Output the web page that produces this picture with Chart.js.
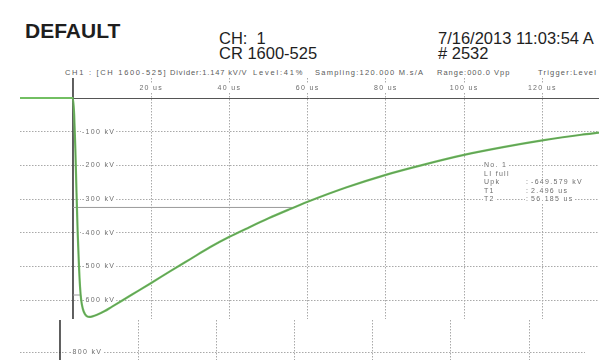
<!DOCTYPE html>
<html>
<head>
<meta charset="utf-8">
<script src="https://cdn.jsdelivr.net/npm/chart.js@4.4.0/dist/chart.umd.min.js"></script>
<style>
  body { margin: 0; width: 599px; height: 360px; overflow: hidden; position: relative; background: #fff;
         font-family: "Liberation Sans", Arial, sans-serif; }
  .t { position: absolute; white-space: nowrap; line-height: 1; color: #1e1e1e; }
  .hdr { font-size: 7.5px; color: #5a5a5a; top: 69px; }
  #main { position: absolute; left: 0; top: 0; }
  #frag { position: absolute; left: 0; top: 320px; }
</style>
</head>
<body>
<div class="t" style="left:25px;top:20px;font-size:21px;font-weight:bold;">DEFAULT</div>
<div class="t" style="left:219px;top:30px;font-size:16.5px;">CH:&nbsp; 1</div>
<div class="t" style="left:219px;top:45px;font-size:16.5px;">CR 1600-525</div>
<div class="t" style="left:438px;top:30px;font-size:16.5px;">7/16/2013 11:03:54 A</div>
<div class="t" style="left:438px;top:45px;font-size:16.5px;"># 2532</div>

<div class="t hdr" style="left:65px;letter-spacing:1.7px;">CH1 : [CH 1600-525]</div>
<div class="t hdr" style="left:170px;letter-spacing:0.85px;">Divider:1.147 kV/V</div>
<div class="t hdr" style="left:253px;letter-spacing:1.8px;">Level:41%</div>
<div class="t hdr" style="left:315px;letter-spacing:1.25px;">Sampling:120.000 M.s/A</div>
<div class="t hdr" style="left:437px;letter-spacing:1px;">Range:000.0 Vpp</div>
<div class="t hdr" style="left:538px;letter-spacing:1.2px;">Trigger:Level 10</div>

<canvas id="main" width="599" height="320"></canvas>
<canvas id="frag" width="599" height="40"></canvas>

<script>
// impulse record, time in us, voltage in kV
const timeUs = [-13.6, 0, 0.3, 0.6, 0.9, 1.2, 1.5, 1.8, 2.1, 2.5, 3, 3.5, 4.2, 5, 6, 8, 10, 15,
                20, 25, 30, 35, 40, 45, 50, 55, 60, 70, 80, 90, 100, 110, 120, 130, 134.5];
const voltageKv = [0, 0, -50, -150, -280, -400, -490, -560, -600, -625, -640, -647, -649.6, -648, -644, -633, -619, -584,
                   -549, -513, -478, -443, -412, -384, -357, -332, -308, -265, -228, -197, -169, -146, -126, -109, -103];

const xTickVals = [20, 40, 60, 80, 100, 120];
const yTickVals = [-100, -200, -300, -400, -500, -600];
const fragYTickVals = [-800];

const upkKv = -649.579;
const t1Us = 2.496;
const t2Us = 56.185;
const infoLabels = ['No. 1', 'LI full', 'Upk', 'T1', 'T2'];
const infoValues = ['', '', '-649.579 kV', '2.496 us', '56.185 us'];

const GREEN = '#72bf62';
const GRID = '#a9a9a9';
const FONT = '7px "Liberation Sans", Arial, sans-serif';

const points = timeUs.map((t, i) => ({ x: t, y: voltageKv[i] }));

// time where the front first reaches a given level
function crossing(level) {
  for (let i = 1; i < points.length; i++) {
    const a = points[i - 1], b = points[i];
    if ((a.y - level) * (b.y - level) <= 0 && a.y !== b.y) {
      return a.x + (level - a.y) / (b.y - a.y) * (b.x - a.x);
    }
  }
  return 0;
}

function textBox(ctx, txt, px, py, align) {
  const w = ctx.measureText(txt).width;
  const left = align === 'center' ? px - w / 2 : px;
  ctx.fillStyle = '#fff';
  ctx.fillRect(left - 1, py - 4, w + 2, 8);
  ctx.fillStyle = '#6e6e6e';
  ctx.textAlign = 'left';
  ctx.fillText(txt, left, py);
}

const scopeDecor = {
  id: 'scopeDecor',
  beforeDatasetsDraw(chart, args, opts) {
    const { ctx, chartArea: a, scales: { x, y } } = chart;
    const x0 = x.getPixelForValue(0);
    ctx.save();

    if (opts.zeroLine) {
      const y0 = Math.round(y.getPixelForValue(0)) + 0.5;
      ctx.strokeStyle = '#555';
      ctx.lineWidth = 1;
      ctx.beginPath(); ctx.moveTo(a.left, y0); ctx.lineTo(a.right, y0); ctx.stroke();
    }

    ctx.strokeStyle = '#2b2b2b';
    ctx.lineWidth = 1.5;
    ctx.beginPath(); ctx.moveTo(x0, a.top); ctx.lineTo(x0, a.bottom); ctx.stroke();

    ctx.font = FONT;
    ctx.letterSpacing = '1.3px';
    ctx.textBaseline = 'middle';

    y.ticks.forEach(t => textBox(ctx, t.value + ' kV', x0 + 9, y.getPixelForValue(t.value), 'left'));

    if (opts.xLabels) {
      const ly = y.getPixelForValue(0) - 10;
      x.ticks.forEach(t => textBox(ctx, t.value + ' us', x.getPixelForValue(t.value), ly, 'center'));
    }

    if (opts.info) {
      const top = y.getPixelForValue(-200);
      const step = (y.getPixelForValue(-300) - top) / 4;
      infoLabels.forEach((lab, i) => {
        const py = top + i * step;
        textBox(ctx, lab, 484, py, 'left');
        if (infoValues[i]) {
          textBox(ctx, ':', 526, py, 'left');
          textBox(ctx, infoValues[i], 531, py, 'left');
        }
      });
    }
    ctx.restore();
  }
};

function gridAxis(min, max, ticks) {
  return {
    type: 'linear', min: min, max: max,
    afterBuildTicks: s => { s.ticks = ticks.map(v => ({ value: v })); },
    ticks: { display: false },
    grid: { color: GRID, lineWidth: 1, drawTicks: false },
    border: { display: false, dash: [1.5, 1.5] }
  };
}

// scale ranges from the reference: 78.2 px per 20 us, 33.7 px per 100 kV
const t90 = crossing(0.9 * upkKv);

new Chart(document.getElementById('main'), {
  type: 'line',
  data: {
    datasets: [
      { data: points.filter(p => p.x >= 0), borderColor: 'rgba(55,75,55,0.5)', borderWidth: 0.6,
        pointRadius: 0, cubicInterpolationMode: 'monotone', order: 0 },
      { data: points, borderColor: GREEN, borderWidth: 2.2,
        pointRadius: 0, cubicInterpolationMode: 'monotone', order: 1 },
      { data: [{ x: 0, y: upkKv / 2 }, { x: t2Us, y: upkKv / 2 }], borderColor: '#9a9a9a', borderWidth: 1,
        pointRadius: 0, order: 2 },
      { data: [{ x: 0, y: 0.9 * upkKv }, { x: t90, y: 0.9 * upkKv }], borderColor: '#9a9a9a', borderWidth: 1,
        pointRadius: 0, order: 2 }
    ]
  },
  options: {
    responsive: false,
    animation: false,
    layout: { padding: { left: 20, right: 0, top: 78, bottom: 1 } },
    scales: {
      x: gridAxis(-13.55, 134.5, xTickVals),
      y: gridAxis(-655.8, 59.3, yTickVals)
    },
    plugins: {
      legend: { display: false },
      tooltip: { enabled: false },
      scopeDecor: { zeroLine: true, xLabels: true, info: true }
    }
  },
  plugins: [scopeDecor]
});

// shifted strip at the bottom of the scan
new Chart(document.getElementById('frag'), {
  type: 'line',
  data: { datasets: [{ data: [], pointRadius: 0 }] },
  options: {
    responsive: false,
    animation: false,
    layout: { padding: { left: 20, right: 14, top: 0, bottom: 0 } },
    scales: {
      x: gridAxis(-10.23, 134.3, xTickVals),
      y: gridAxis(-823.7, -705, fragYTickVals)
    },
    plugins: {
      legend: { display: false },
      tooltip: { enabled: false },
      scopeDecor: { zeroLine: false, xLabels: false, info: false }
    }
  },
  plugins: [scopeDecor]
});
</script>
</body>
</html>
